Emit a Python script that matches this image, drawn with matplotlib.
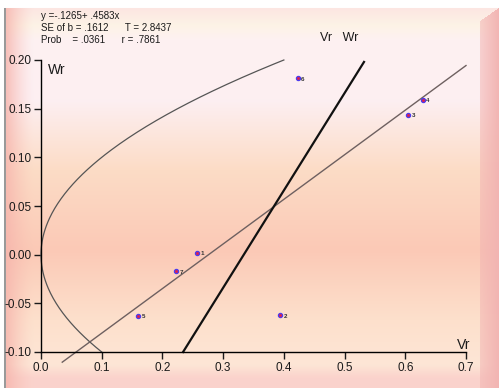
import numpy as np
import matplotlib
matplotlib.use("Agg")
import matplotlib.pyplot as plt
from matplotlib.colors import to_rgb

plt.rcParams['font.family'] = ['Liberation Sans', 'DejaVu Sans']

# Vr / Wr values for the seven parents
labels = ["1", "2", "3", "4", "5", "6", "7"]
vr = [0.257, 0.394, 0.605, 0.629, 0.160, 0.423, 0.222]
wr = [0.002, -0.062, 0.144, 0.159, -0.063, 0.181, -0.017]

# regression of Wr on Vr
intercept = -0.1265
slope = 0.4583
reg_text = ["y =-.1265+ .4583x",
            "SE of b = .1612      T = 2.8437",
            "Prob    = .0361      r = .7861"]

# limiting parabola Wr^2 = Vr * V0L0
v0l0 = 0.1
# unit-slope reference line Wr = Vr + c
unit_c = -0.334

xticks = [0.0, 0.1, 0.2, 0.3, 0.4, 0.5, 0.6, 0.7]
yticks = [-0.10, -0.05, 0.00, 0.05, 0.10, 0.15, 0.20]

W, H = 499, 388
fig = plt.figure(figsize=(W / 100, H / 100), dpi=100)

# background panel with vertical colour gradient and bevelled edges
bg = fig.add_axes([0, 0, 1, 1])
bg.set_axis_off()
ys = np.array([0, 7, 8, 25, 40, 100, 170, 250, 320, 365, 378, 388]) / H
cs = np.array([to_rgb(c) for c in ["#ffffff", "#ffffff", "#fce6e2", "#fdf3e6", "#fdf1f2",
                                    "#fdeff2", "#fcdcc6", "#fbc9b6", "#fde0cc", "#fde6d6",
                                    "#fbd3cc", "#fbd3cc"]])
yy = np.linspace(0, 1, H)
col = np.stack([np.interp(yy, ys, cs[:, k]) for k in range(3)], axis=1)
img = np.repeat(col[:, None, :], W, axis=1)
xx = np.arange(W)
# left reddish shading
left_w = np.clip(1 - (xx - 6) / 28.0, 0, 1) ** 1.5
left_c = np.array(to_rgb("#f6b4ac"))
img = img * (1 - 0.8 * left_w[None, :, None]) + left_c * 0.8 * left_w[None, :, None]
# right bevel
right_c = np.array(to_rgb("#f2b4b2"))
for x in range(480, W):
    y0 = 8 + max(0, 499 - x - 4)
    y0 = int(8 + (499 - x) * 0.7)
    a = 0.55 + 0.45 * (x - 480) / 19
    img[y0:, x] = img[y0:, x] * (1 - a) + right_c * a
img[:8, :] = 1.0
# grey left border line
img[8:, 4:6] = to_rgb("#9a9a9a")
img[:, :4] = 1.0
bg.imshow(img, extent=[0, 1, 0, 1], aspect='auto', interpolation='bilinear')
bg.set_xlim(0, 1)
bg.set_ylim(0, 1)

# main plotting area
x0, x1 = 41 / W, 466 / W
y0, y1 = 1 - 352 / H, 1 - 60 / H
ax = fig.add_axes([x0, y0, x1 - x0, y1 - y0])
ax.patch.set_alpha(0)
ax.set_xlim(0, 0.7)
ax.set_ylim(-0.10, 0.20)
for s in ["top", "right"]:
    ax.spines[s].set_visible(False)
ax.spines["left"].set_linewidth(1.0)
ax.spines["bottom"].set_linewidth(1.0)
ax.set_xticks(xticks)
ax.set_xticklabels([f"{t:.1f}" for t in xticks])
ax.set_yticks(yticks)
ax.set_yticklabels([f"{t:.2f}" for t in yticks])
ax.tick_params(axis="both", direction="out", length=5, width=1, labelsize=8.5,
               colors="#1a1a1a", pad=2)

# limiting parabola
p = np.linspace(-0.1, 0.2, 300)
ax.plot(p ** 2 / v0l0, p, color="#555555", lw=0.9, clip_on=False)

# regression line
rx = np.array([0.035, 0.7])
ax.plot(rx, intercept + slope * rx, color="#6e6060", lw=1.0, clip_on=False)

# unit-slope line
ux = np.array([0.234, 0.532])
ax.plot(ux, ux + unit_c, color="#111111", lw=1.6, clip_on=False)

# parent points
ax.scatter(vr, wr, s=9, facecolor="#e0204a", edgecolor="#4b3cf0", linewidth=0.9, zorder=5)
for lb, x, y in zip(labels, vr, wr):
    ax.annotate(lb, (x, y), xytext=(2.5, -1.8), textcoords="offset points",
                fontsize=4.5, color="#333333", fontweight="bold")

# axis names and title
fig.text(48 / W, 1 - 70 / H, "Wr", fontsize=10, color="#1a1a1a", va="center", ha="left")
fig.text(470 / W, 1 - 345 / H, "Vr", fontsize=10, color="#1a1a1a", va="center", ha="right")
fig.text(339 / W, 1 - 38 / H, "Vr   Wr", fontsize=9, color="#1a1a1a", va="center", ha="center")

# regression statistics
for i, t in enumerate(reg_text):
    fig.text(41 / W, 1 - (16 + i * 12) / H, t, fontsize=7, color="#1a1a1a",
             va="center", ha="left")

fig.savefig("out.png", dpi=100)
